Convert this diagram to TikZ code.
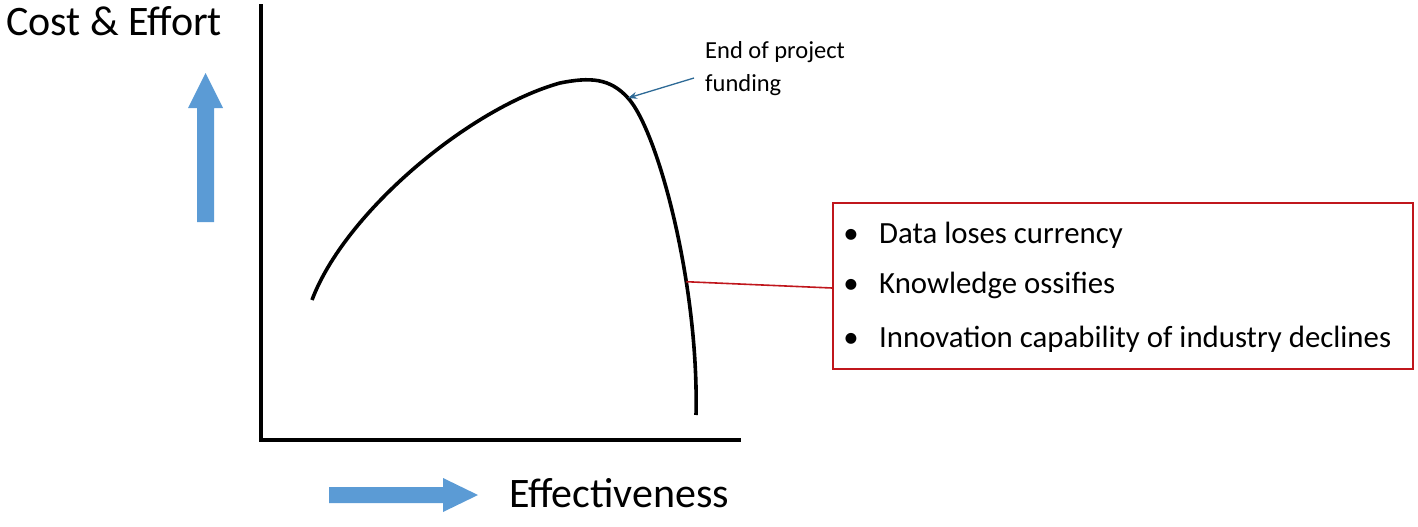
\documentclass[tikz,border=0pt]{standalone}
\usepackage{fontspec}
\setmainfont{Carlito}
\usetikzlibrary{arrows.meta}
\definecolor{officeblue}{HTML}{5B9BD5}
\definecolor{annblue}{HTML}{2E6A96}
\definecolor{boxred}{HTML}{C0161C}
\tikzset{
  axisline/.style={line width=4pt, line cap=rect},
  curveline/.style={line width=3.6pt},
  bigarrow/.style={fill=officeblue, draw=none},
  bigtext/.style={font=\fontsize{42}{50}\selectfont, inner sep=0pt},
  annot/.style={font=\fontsize{24.5}{33}\selectfont, inner sep=0pt, align=left},
  annarrow/.style={draw=annblue, line width=1.3pt, -{Stealth[length=9pt,width=7pt]}},
  redbox/.style={draw=boxred, line width=2pt, rectangle, minimum width=580pt, minimum height=166pt, inner sep=0pt},
  redline/.style={draw=boxred, line width=1.6pt},
  itemtext/.style={font=\fontsize{30.8}{36}\selectfont, inner sep=0pt, anchor=base west},
  bullet/.style={font=\fontsize{30.8}{36}\selectfont, inner sep=0pt, anchor=base},
}
\begin{document}
\begin{tikzpicture}[x=1pt, y=-1pt]
\useasboundingbox (0,0) rectangle (1418,527);
% axes
\coordinate (ytop) at (261,6);
\coordinate (origin) at (261,440);
\coordinate (xend) at (739,440);
\draw[axisline] (ytop) -- (origin) -- (xend);
% curve
\draw[curveline] (312,300) .. controls (345,212) and (470,108) .. (560,83)
  .. controls (590,77) and (610,78) .. (628,98) coordinate (fund)
  .. controls (658,131) and (699,285) .. (696,415) coordinate[pos=0.665] (drop);
% big blue arrows
\fill[bigarrow] (197,222) -- (197,108) -- (188,108) -- (205.5,73) -- (223,108) -- (214,108) -- (214,222) -- cycle;
\fill[bigarrow] (329,487) -- (443,487) -- (443,478) -- (478,495) -- (443,512) -- (443,503) -- (329,503) -- cycle;
% labels
\node[bigtext, anchor=base west] (ylabel) at (6,36) {Cost \& Effort};
\node[bigtext, anchor=base west] (xlabel) at (509,507) {Effectiveness};
% annotation
\node[annot, anchor=north west] (endlabel) at (705,41) {End of project\\funding};
\coordinate (annstart) at (694,78);
\draw[annarrow] (annstart) -- (fund);
% red box
\node[redbox] (box) at (1123,286) {};
\draw[redline] (drop) -- (box.west |- 0,288);
\node[bullet] (b1) at (851,243) {•};
\node[bullet] (b2) at (851,293) {•};
\node[bullet] (b3) at (851,347) {•};
\node[itemtext] (t1) at (879,243) {Data loses currency};
\node[itemtext] (t2) at (879,293) {Knowledge ossifies};
\node[itemtext] (t3) at (879,347) {Innovation capability of industry declines};
\end{tikzpicture}
\end{document}
